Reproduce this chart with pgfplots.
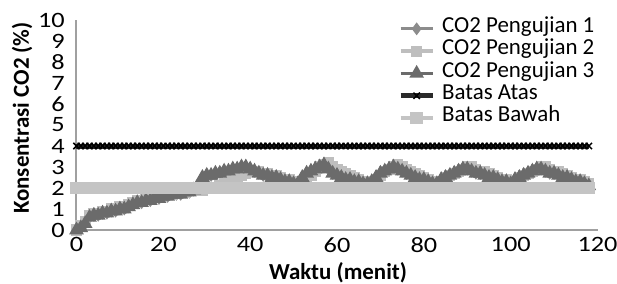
\documentclass[border=0pt]{standalone}
\usepackage{fontspec}
\setmainfont{Carlito}
\newfontfamily\tickfont{Carlito}[FakeStretch=1.2]
\usepackage{pgfplots}
\usepackage{pgfplotstable}
\pgfplotsset{compat=1.18}
\definecolor{sone}{HTML}{8C8C8C}
\definecolor{stwo}{HTML}{BEBEBE}
\definecolor{sthree}{HTML}{6B6B6B}
\definecolor{atas}{HTML}{2A2A2A}
\definecolor{bawah}{HTML}{C4C4C4}
\definecolor{axgray}{HTML}{A0A0A0}
\pgfplotstableread{
t s1 s2 s3
0 0.0 0.0 0.0
1 0.1 0.2 0.1
2 0.3 0.4 0.3
3 0.6 0.7 0.6
4 0.7 0.8 0.7
5 0.7 0.8 0.7
6 0.8 0.9 0.8
7 0.8 0.9 0.8
8 0.9 1.0 0.9
9 0.9 1.0 0.9
10 1.0 1.1 1.0
11 1.0 1.1 1.0
12 1.1 1.2 1.1
13 1.2 1.3 1.2
14 1.3 1.4 1.3
15 1.3 1.4 1.3
16 1.4 1.5 1.4
17 1.4 1.5 1.4
18 1.5 1.6 1.5
19 1.5 1.6 1.5
20 1.6 1.7 1.6
21 1.6 1.7 1.6
22 1.7 1.7 1.7
23 1.7 1.8 1.7
24 1.7 1.8 1.7
25 1.8 1.8 1.8
26 1.8 1.9 1.8
27 1.9 1.9 1.9
28 2.0 1.9 2.0
29 2.3 1.9 2.5
30 2.5 2.0 2.6
31 2.6 2.0 2.6
32 2.6 2.0 2.7
33 2.7 2.1 2.7
34 2.7 2.2 2.8
35 2.8 2.3 2.8
36 2.8 2.4 2.9
37 2.9 2.5 2.9
38 2.9 2.6 3.0
39 2.9 2.7 3.0
40 2.8 2.8 2.9
41 2.8 2.8 2.8
42 2.7 2.8 2.7
43 2.6 2.7 2.6
44 2.6 2.7 2.6
45 2.5 2.6 2.5
46 2.5 2.6 2.5
47 2.4 2.5 2.4
48 2.3 2.4 2.3
49 2.3 2.4 2.3
50 2.2 2.3 2.2
51 2.2 2.3 2.2
52 2.4 2.3 2.5
53 2.6 2.4 2.7
54 2.7 2.6 2.8
55 2.8 2.8 2.9
56 2.9 3.0 3.0
57 3.0 3.1 3.1
58 2.9 3.2 2.9
59 2.7 3.0 2.7
60 2.6 2.9 2.6
61 2.5 2.8 2.5
62 2.4 2.7 2.4
63 2.4 2.6 2.4
64 2.3 2.5 2.3
65 2.3 2.4 2.3
66 2.2 2.3 2.2
67 2.2 2.3 2.2
68 2.3 2.3 2.3
69 2.5 2.4 2.5
70 2.7 2.6 2.7
71 2.8 2.8 2.8
72 2.9 2.9 2.9
73 3.0 3.0 3.0
74 2.9 3.1 2.9
75 2.8 3.0 2.8
76 2.7 2.9 2.7
77 2.6 2.8 2.6
78 2.5 2.7 2.5
79 2.4 2.6 2.4
80 2.4 2.5 2.4
81 2.3 2.4 2.3
82 2.2 2.3 2.2
83 2.2 2.3 2.2
84 2.4 2.3 2.4
85 2.5 2.5 2.5
86 2.6 2.6 2.6
87 2.7 2.7 2.7
88 2.8 2.8 2.8
89 2.9 2.9 2.9
90 2.9 3.0 2.9
91 2.8 3.0 2.8
92 2.7 2.9 2.7
93 2.7 2.8 2.7
94 2.6 2.8 2.6
95 2.5 2.7 2.5
96 2.5 2.6 2.5
97 2.4 2.5 2.4
98 2.3 2.4 2.3
99 2.3 2.4 2.3
100 2.2 2.3 2.2
101 2.4 2.3 2.4
102 2.5 2.5 2.5
103 2.6 2.6 2.6
104 2.7 2.7 2.7
105 2.8 2.8 2.8
106 2.9 2.9 2.9
107 2.9 3.0 2.9
108 2.8 3.0 2.8
109 2.7 2.9 2.7
110 2.7 2.8 2.7
111 2.6 2.8 2.6
112 2.5 2.7 2.5
113 2.5 2.6 2.5
114 2.4 2.5 2.4
115 2.3 2.4 2.3
116 2.3 2.4 2.3
117 2.2 2.3 2.2
118 2.1 2.2 2.1
}\co
\pgfplotstableread{
t a b
0 4 2
1 4 2
2 4 2
3 4 2
4 4 2
5 4 2
6 4 2
7 4 2
8 4 2
9 4 2
10 4 2
11 4 2
12 4 2
13 4 2
14 4 2
15 4 2
16 4 2
17 4 2
18 4 2
19 4 2
20 4 2
21 4 2
22 4 2
23 4 2
24 4 2
25 4 2
26 4 2
27 4 2
28 4 2
29 4 2
30 4 2
31 4 2
32 4 2
33 4 2
34 4 2
35 4 2
36 4 2
37 4 2
38 4 2
39 4 2
40 4 2
41 4 2
42 4 2
43 4 2
44 4 2
45 4 2
46 4 2
47 4 2
48 4 2
49 4 2
50 4 2
51 4 2
52 4 2
53 4 2
54 4 2
55 4 2
56 4 2
57 4 2
58 4 2
59 4 2
60 4 2
61 4 2
62 4 2
63 4 2
64 4 2
65 4 2
66 4 2
67 4 2
68 4 2
69 4 2
70 4 2
71 4 2
72 4 2
73 4 2
74 4 2
75 4 2
76 4 2
77 4 2
78 4 2
79 4 2
80 4 2
81 4 2
82 4 2
83 4 2
84 4 2
85 4 2
86 4 2
87 4 2
88 4 2
89 4 2
90 4 2
91 4 2
92 4 2
93 4 2
94 4 2
95 4 2
96 4 2
97 4 2
98 4 2
99 4 2
100 4 2
101 4 2
102 4 2
103 4 2
104 4 2
105 4 2
106 4 2
107 4 2
108 4 2
109 4 2
110 4 2
111 4 2
112 4 2
113 4 2
114 4 2
115 4 2
116 4 2
117 4 2
118 4 2
}\lim
\begin{document}
\begin{tikzpicture}[font=\fontsize{23}{26}\selectfont]
\begin{axis}[
  scale only axis, width=521bp, height=210bp,
  xmin=0, xmax=120, ymin=0, ymax=10,
  xtick={0,20,...,120}, ytick={0,1,...,10},
  axis x line=bottom, axis y line=left,
  axis line style={-, draw=axgray, line width=2bp},
  major tick length=0pt,
  /pgf/number format/assume math mode=true,
  tick label style={font=\tickfont\fontsize{22}{24}\selectfont, inner sep=0.5bp},
  xticklabel style={yshift=-7bp},
  yticklabel style={xshift=-11bp},
  xlabel={\bfseries Waktu (menit)},
  ylabel={\bfseries Konsentrasi CO2 (\%)},
  label style={font=\fontsize{23}{26}\selectfont},
  xlabel style={at={(axis description cs:0.502,-0.205)}, anchor=center},
  ylabel style={at={(axis description cs:-0.1046,0.533)}, anchor=center},
  clip=false,
  legend style={draw=none, fill=none, at={(axis description cs:0.617,1.012)}, anchor=north west,
    font=\fontsize{23}{26}\selectfont, row sep=0pt, inner sep=0pt,
    nodes={inner sep=0pt, text height=15bp, text depth=7.3bp},
    /tikz/column 1/.style={column sep=7bp}},
  legend cell align=left,
  legend image code/.code={
    \draw[#1, mark repeat=2, mark phase=2] plot coordinates {(0bp,0bp) (16bp,0bp) (32bp,0bp)};},
]
\addplot[sone, line width=3bp, mark=diamond*, mark size=4bp, mark options={solid}] table[x=t, y=s1] {\co};
\addlegendentry{CO2 Pengujian 1}
\addplot[stwo, line width=3.5bp, mark=square*, mark size=3.8bp] table[x=t, y=s2] {\co};
\addlegendentry{CO2 Pengujian 2}
\addplot[sthree, line width=3.5bp, mark=triangle*, mark size=5bp] table[x=t, y=s3] {\co};
\addlegendentry{CO2 Pengujian 3}
\addplot[atas, line width=5bp, mark=x, mark size=4.5bp, mark options={black, line width=1.5bp}] table[x=t, y=a] {\lim};
\addlegendentry{Batas Atas}
\addplot[bawah, line width=3.5bp, mark=square*, mark size=4.5bp] table[x=t, y=b] {\lim};
\addlegendentry{Batas Bawah}
\end{axis}
\pgfresetboundingbox
\useasboundingbox (-76.5bp,-54bp) rectangle (540.5bp,230bp);
\end{tikzpicture}
\end{document}
